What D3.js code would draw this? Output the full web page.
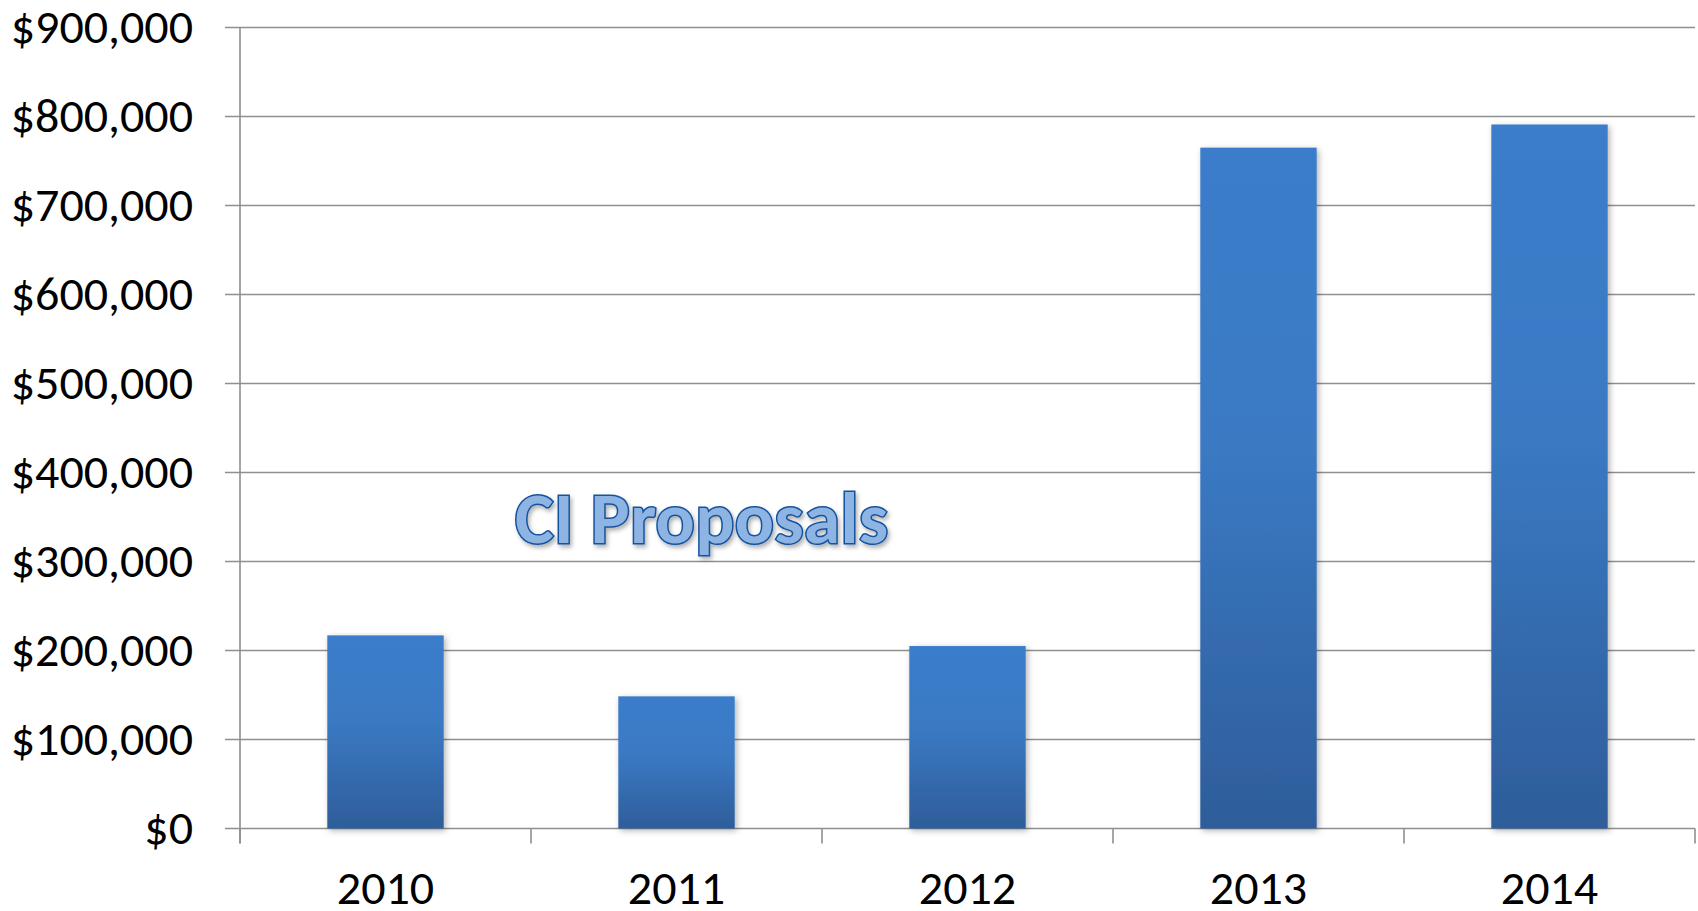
<!DOCTYPE html>
<html>
<head>
<meta charset="utf-8">
<script src="https://cdn.jsdelivr.net/npm/d3@7"></script>
<style>
  html, body { margin: 0; padding: 0; background: #fff; }
  svg { display: block; }
</style>
</head>
<body>
<div id="container"></div>
<script>
// chart data
const years = ['2010', '2011', '2012', '2013', '2014'];
const amounts = [217000, 148500, 205000, 765000, 791000];
const yTicks = [0, 100000, 200000, 300000, 400000, 500000, 600000, 700000, 800000, 900000];
const chartTitle = 'CI Proposals';

const width = 1698, height = 911;
const margin = { top: 27.5, right: 3, bottom: 82.5, left: 240 };
const font = 'Carlito, Calibri, Lato, sans-serif';

const svg = d3.select('#container').append('svg').attr('width', width).attr('height', height);
const defs = svg.append('defs');

const grad = defs.append('linearGradient').attr('id', 'barGrad').attr('x1', 0).attr('y1', 0).attr('x2', 0).attr('y2', 1);
grad.append('stop').attr('offset', '0%').attr('stop-color', '#3a7dcb');
grad.append('stop').attr('offset', '45%').attr('stop-color', '#3a79c3');
grad.append('stop').attr('offset', '100%').attr('stop-color', '#2e5d9a');

defs.append('filter').attr('id', 'barShadow').attr('x', '-20%').attr('y', '-20%').attr('width', '140%').attr('height', '140%')
  .append('feDropShadow').attr('dx', 2).attr('dy', 2).attr('stdDeviation', 3).attr('flood-color', '#000').attr('flood-opacity', 0.3);

defs.append('filter').attr('id', 'titleShadow').attr('x', '-10%').attr('y', '-30%').attr('width', '120%').attr('height', '160%')
  .append('feDropShadow').attr('dx', 2).attr('dy', 3).attr('stdDeviation', 2).attr('flood-color', '#000').attr('flood-opacity', 0.3);

const x = d3.scaleBand().domain(years).range([margin.left, width - margin.right]).paddingInner(0.6).paddingOuter(0.3);
const y = d3.scaleLinear().domain([0, 900000]).range([height - margin.bottom, margin.top]);

const gridColor = '#8f8f8f';

// horizontal gridlines + left tick marks
svg.append('g').selectAll('line').data(yTicks).join('line')
  .attr('x1', margin.left - 15).attr('x2', width - margin.right)
  .attr('y1', d => y(d)).attr('y2', d => y(d))
  .attr('stroke', gridColor).attr('stroke-width', 1.6);

// vertical axis
svg.append('line').attr('x1', margin.left).attr('x2', margin.left)
  .attr('y1', y(900000)).attr('y2', y(0) + 15)
  .attr('stroke', gridColor).attr('stroke-width', 1.6);

// category tick marks at band boundaries
const step = x.step();
const x0 = x(years[0]) - step * x.paddingOuter();
svg.append('g').selectAll('line').data(d3.range(years.length + 1)).join('line')
  .attr('x1', i => x0 + i * step).attr('x2', i => x0 + i * step)
  .attr('y1', y(0)).attr('y2', y(0) + 15)
  .attr('stroke', gridColor).attr('stroke-width', 1.6);

// y labels
const fmt = d3.format('$,.0f');
svg.append('g').selectAll('text').data(yTicks).join('text')
  .attr('x', 193).attr('y', d => y(d)).attr('dy', '0.33em')
  .attr('text-anchor', 'end').attr('font-family', font).attr('font-size', 48).attr('fill', '#000')
  .text(d => fmt(d));

// x labels
svg.append('g').selectAll('text').data(years).join('text')
  .attr('x', d => x(d) + x.bandwidth() / 2).attr('y', 904)
  .attr('text-anchor', 'middle').attr('font-family', font).attr('font-size', 48).attr('fill', '#000')
  .text(d => d);

// bars
svg.append('g').selectAll('rect').data(years).join('rect')
  .attr('x', d => x(d)).attr('width', x.bandwidth())
  .attr('y', (d, i) => y(amounts[i])).attr('height', (d, i) => y(0) - y(amounts[i]))
  .attr('fill', 'url(#barGrad)').attr('filter', 'url(#barShadow)');

// title floating inside plot
svg.append('text')
  .attr('x', 515).attr('y', 543)
  .attr('font-family', font).attr('font-weight', 'bold').attr('font-size', 73)
  .attr('textLength', 373).attr('lengthAdjust', 'spacing')
  .attr('fill', '#8db4e3').attr('stroke', '#14529f').attr('stroke-width', 3).attr('paint-order', 'stroke')
  .attr('filter', 'url(#titleShadow)')
  .text(chartTitle);
</script>
</body>
</html>
